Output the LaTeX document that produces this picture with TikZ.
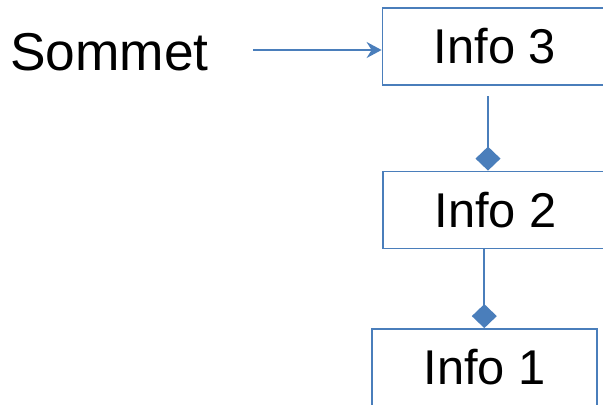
\documentclass[tikz,border=0pt]{standalone}
\usepackage{fontspec}
\setmainfont{Liberation Sans}
\usetikzlibrary{arrows.meta}
\definecolor{lineblue}{HTML}{4A7EBB}
\begin{document}
\begin{tikzpicture}[x=1bp,y=1bp,
  infobox/.style={draw=lineblue,line width=1.8bp,minimum width=225bp,minimum height=77bp,inner sep=0pt,font=\fontsize{49}{55}\selectfont},
  link/.style={draw=lineblue,line width=1.8bp},
  dia/.style={-{Diamond[length=24bp,width=25bp,fill=lineblue]}}]
\useasboundingbox (0,0) rectangle (603,-404);
\clip (0,0) rectangle (603,-404);
\fill[white] (0,0) rectangle (603,-404);
\node[infobox] (i3) at (495,-46.5) {Info 3};
\node[infobox] (i2) at (495.5,-210) {Info 2};
\node[infobox] (i1) at (484.5,-367.5) {Info 1};
\node[anchor=base west,inner sep=0pt,font=\fontsize{53.5}{60}\selectfont] (s) at (10,-70) {Sommet};
\coordinate (a0) at (253,-50);
\coordinate (b0) at (488,-96);
\coordinate (c0) at (484.3,-249);
\draw[link,-{Stealth[length=15bp,width=16bp,inset=5bp]}] (a0) -- (a0 -| i3.west);
\draw[link,dia] (b0) -- (b0 |- i2.north);
\draw[link,dia] (c0) -- (c0 |- i1.north);
\end{tikzpicture}
\end{document}
